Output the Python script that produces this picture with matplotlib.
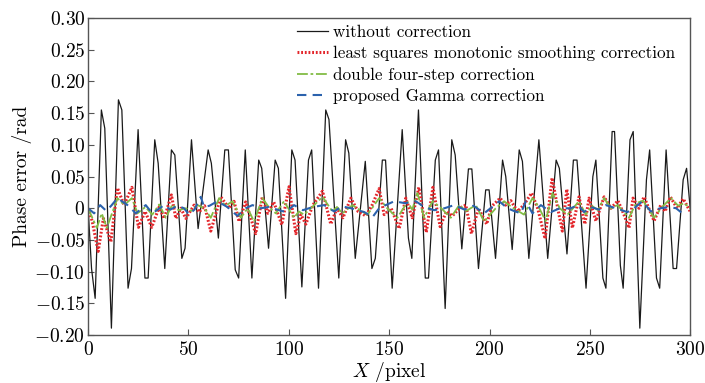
import matplotlib
matplotlib.use("Agg")
import matplotlib.pyplot as plt

# =====================================================
# DATA (vertices)
# =====================================================

black_x = [0, 1.7, 3.5, 6.6, 8.3, 11.6, 15.1, 16.8, 19.9, 21.6, 24.9, 28.3, 29.9,
           33.2, 34.9, 38.2, 41.5, 43.2, 46.7, 48.3, 51.5, 54.8, 59.8, 61.4, 64.9,
           68.1, 69.9, 73.3, 75.0, 78.3, 81.6, 85.0, 86.5, 89.9, 93.2, 94.8, 98.4,
           101.5, 103.1, 106.5, 109.8, 111.4, 114.8, 118.4, 120.0, 124.9, 128.3,
           129.9, 133.1, 138.1, 141.4, 143.1, 146.6, 148.2, 151.5, 156.5, 159.6,
           161.3, 164.6, 168.0, 169.6, 173.0, 174.6, 177.9, 181.2, 182.9, 186.2,
           189.5, 191.2, 194.5, 198.1, 199.8, 203.0, 206.5, 208.1, 211.3, 214.8,
           216.4, 219.6, 224.6, 229.0, 233.2, 234.8, 238.6, 241.8, 243.6, 248.1,
           251.5, 253.0, 256.5, 258.0, 261.1, 262.3, 265.2, 266.6, 270.0, 271.6,
           274.9, 278.2, 279.8, 283.2, 284.8, 288.0, 291.5, 293.2, 296.5, 298.2, 300]
black_y = [0.0, -0.095, -0.142, 0.155, 0.126, -0.189, 0.171, 0.155, -0.126, -0.095,
           0.124, -0.110, -0.110, 0.108, 0.071, -0.095, 0.092, 0.084, -0.079, -0.063,
           0.108, -0.032, 0.092, 0.071, -0.047, 0.092, 0.092, -0.097, -0.110, 0.092,
           -0.110, 0.076, 0.063, -0.063, 0.076, 0.063, -0.142, 0.092, 0.076, -0.124,
           0.076, 0.092, -0.126, 0.155, 0.140, -0.110, 0.108, 0.087, -0.079, 0.074,
           -0.095, -0.079, 0.076, 0.076, -0.126, 0.124, -0.047, -0.079, 0.155, -0.110,
           -0.110, 0.076, 0.092, -0.158, 0.108, 0.084, -0.064, 0.062, 0.062, -0.095,
           0.029, 0.029, -0.079, 0.076, 0.050, -0.065, 0.092, 0.074, -0.079, 0.108,
           -0.079, 0.076, 0.063, -0.072, 0.076, 0.076, -0.126, 0.050, 0.076, -0.110,
           -0.126, 0.121, 0.121, -0.090, -0.126, 0.108, 0.121, -0.189, 0.045, 0.092,
           -0.110, -0.126, 0.092, -0.095, -0.095, 0.045, 0.063, 0.0]

red_x = [0, 2.0, 5.0, 7.6, 11.3, 14.6, 17.9, 21.8, 25.1, 28.4, 31.7, 35.4, 37.9,
         41.5, 43.7, 46.2, 48.7, 52.8, 55.3, 58.0, 61.1, 66.1, 70.2, 72.7, 75.2,
         78.5, 83.5, 86.8, 89.5, 92.5, 96.5, 100.1, 103.5, 106.0, 108.5, 112.0,
         116.8, 120.9, 124.0, 127.0, 130.9, 134.5, 138.4, 141.5, 145.0, 147.5,
         151.0, 155.0, 158.3, 161.5, 164.8, 168.5, 171.8, 175.4, 178.5, 181.5,
         185.0, 188.2, 191.0, 194.5, 198.6, 201.1, 205.3, 208.0, 210.6, 214.0,
         217.0, 221.0, 224.0, 227.7, 231.2, 234.0, 236.3, 238.5, 241.3, 244.6,
         247.5, 249.6, 253.0, 257.1, 260.5, 264.0, 267.0, 269.5, 271.5, 274.5,
         277.0, 282.0, 285.3, 287.5, 290.1, 293.5, 296.5, 300]
red_y = [0.0, -0.020, -0.068, -0.016, -0.053, 0.032, 0.005, 0.033, -0.030, -0.005,
         -0.030, 0.002, -0.016, 0.021, -0.016, 0.0, -0.016, 0.005, -0.006, 0.004,
         -0.036, 0.018, 0.0, 0.011, -0.021, 0.010, -0.040, 0.018, -0.008, 0.010,
         -0.026, 0.034, -0.040, -0.010, -0.025, 0.005, 0.027, -0.025, 0.0, -0.015,
         0.016, -0.005, -0.012, 0.005, 0.031, -0.010, 0.0, -0.032, 0.016, -0.015,
         0.033, -0.038, 0.033, -0.029, -0.005, -0.012, 0.0, 0.005, -0.040, 0.0,
         -0.025, 0.003, 0.016, 0.005, 0.012, -0.005, 0.005, 0.024, 0.0, -0.048,
         0.048, 0.0, -0.036, 0.030, -0.031, 0.018, -0.025, 0.016, -0.020, 0.018,
         0.0, 0.012, -0.010, -0.031, 0.016, 0.0, 0.018, -0.020, 0.005, -0.005,
         0.018, 0.0, 0.015, -0.005]

green_x = [0, 4.3, 6.8, 9.3, 14.6, 18.0, 21.8, 24.6, 28.5, 32.0, 35.4, 38.7, 42.0,
           45.0, 48.6, 51.5, 54.5, 58.0, 61.1, 65.3, 68.5, 71.9, 76.1, 79.5, 82.7,
           86.8, 90.0, 93.5, 97.6, 102.6, 105.0, 107.6, 112.0, 116.8, 121.7, 124.0,
           126.7, 131.7, 135.0, 139.2, 145.0, 149.0, 154.1, 159.1, 161.5, 164.1,
           167.4, 171.6, 176.0, 180.7, 184.9, 188.5, 193.2, 197.3, 203.1, 207.3,
           212.0, 217.2, 221.4, 224.5, 228.0, 231.4, 235.0, 238.9, 244.6, 248.0,
           251.0, 254.0, 257.1, 260.5, 263.8, 269.5, 273.0, 276.5, 282.0, 286.0,
           290.4, 294.0, 297.0, 300]
green_y = [0.0, -0.031, -0.008, -0.031, 0.016, 0.005, 0.016, -0.008, 0.002, -0.010,
           0.006, -0.015, 0.006, -0.003, 0.0, -0.004, 0.005, 0.0, -0.015, 0.016,
           0.004, 0.011, -0.015, 0.0, -0.021, 0.016, 0.002, -0.008, 0.011, -0.015,
           -0.005, -0.010, 0.003, 0.018, -0.005, 0.002, -0.008, 0.005, -0.002, -0.010,
           0.016, 0.0, -0.015, 0.010, -0.002, 0.024, -0.015, 0.011, 0.0, -0.015,
           0.005, -0.004, 0.005, -0.021, 0.0, 0.011, 0.0, -0.010, 0.016, 0.002,
           -0.020, 0.024, 0.0, -0.010, 0.011, -0.010, 0.004, -0.003, 0.016, 0.0,
           0.005, -0.015, 0.008, 0.012, -0.015, 0.002, 0.016, 0.004, 0.008, 0.0]

blue_x = [0, 3.0, 6.0, 9.0, 11.5, 14.6, 19.6, 23.8, 28.7, 32.0, 37.9, 41.0, 44.5,
          47.8, 50.3, 53.0, 56.1, 57.8, 60.5, 64.4, 69.4, 74.4, 78.5, 81.9, 86.0,
          90.0, 94.0, 98.5, 102.6, 107.0, 112.0, 117.6, 122.6, 126.5, 131.0, 137.6,
          141.7, 145.0, 148.3, 152.5, 158.0, 163.3, 167.5, 172.4, 177.5, 182.4,
          187.5, 192.0, 197.3, 200.5, 204.8, 209.0, 212.0, 215.6, 218.1, 221.4,
          225.6, 230.6, 235.0, 240.5, 244.0, 247.1, 250.5, 254.6, 258.0, 263.0,
          268.7, 272.0, 276.2, 280.4, 285.0, 289.5, 293.0, 296.1]
blue_y = [0.0, -0.008, 0.005, -0.004, 0.004, 0.016, 0.005, -0.008, 0.005, -0.008,
          0.005, -0.002, 0.004, 0.0, -0.010, -0.002, 0.018, 0.002, 0.004, 0.011,
          0.002, -0.012, 0.0, 0.005, 0.0, 0.002, -0.002, -0.006, 0.005, -0.003,
          0.002, 0.005, -0.005, 0.003, 0.0, -0.006, -0.014, 0.0, 0.005, 0.011,
          0.008, 0.011, 0.002, -0.003, 0.0, 0.005, -0.002, 0.004, -0.008, 0.0,
          0.011, 0.0, -0.004, -0.008, 0.011, -0.008, 0.005, -0.006, 0.0, 0.0,
          0.005, -0.006, 0.002, -0.002, 0.005, 0.0, -0.006, 0.0, 0.011, -0.005,
          0.0, 0.002, 0.0, -0.008]

labels = [
    "without correction",
    "least squares monotonic smoothing correction",
    "double four-step correction",
    "proposed Gamma correction",
]

x_ticks = [0, 50, 100, 150, 200, 250, 300]
y_ticks = [-0.20, -0.15, -0.10, -0.05, 0, 0.05, 0.10, 0.15, 0.20, 0.25, 0.30]
y_tick_labels = [r"$-0.20$", r"$-0.15$", r"$-0.10$", r"$-0.05$", r"$0$",
                 r"$0.05$", r"$0.10$", r"$0.15$", r"$0.20$", r"$0.25$", r"$0.30$"]

# =====================================================
# PLOT
# =====================================================

plt.rcParams["font.family"] = ["cmr10", "DejaVu Serif"]
plt.rcParams["mathtext.fontset"] = "cm"
plt.rcParams["axes.unicode_minus"] = False

fig = plt.figure(figsize=(7.05, 3.83), dpi=100)
ax = fig.add_axes([0.125, 0.125, 0.854, 0.828])

ax.plot(black_x, black_y, color="#1a1a1a", lw=0.9, label=labels[0])
ax.plot(red_x, red_y, color="#e3262b", lw=2.2, ls=(0, (0.6, 0.6)), label=labels[1])
ax.plot(green_x, green_y, color="#82bc45", lw=1.3, ls=(0, (6, 1.5, 1.5, 1.5)), label=labels[2])
ax.plot(blue_x, blue_y, color="#2b62ad", lw=1.5, ls=(0, (4.5, 3)), label=labels[3])

ax.set_xlim(0, 300)
ax.set_ylim(-0.20, 0.30)

ax.set_xticks(x_ticks)
ax.set_xticklabels([r"$%d$" % t for t in x_ticks])
ax.set_yticks(y_ticks)
ax.set_yticklabels(y_tick_labels)

ax.tick_params(direction="in", length=4, width=0.8, color="#555555",
               labelsize=14, pad=2, top=False, right=False)
ax.tick_params(axis="x", pad=4)

for s in ax.spines.values():
    s.set_color("#555555")
    s.set_linewidth(1.0)

ax.set_xlabel(r"$X$ /pixel", fontsize=14, labelpad=1)
ax.set_ylabel("Phase error /rad", fontsize=14, labelpad=2)

ax.legend(
    loc="upper left",
    bbox_to_anchor=(0.33, 1.01),
    frameon=False,
    fontsize=12.3,
    handlelength=1.8,
    handletextpad=0.3,
    labelspacing=0.33,
    borderaxespad=0.2,
)

plt.savefig("out.png", dpi=100)
